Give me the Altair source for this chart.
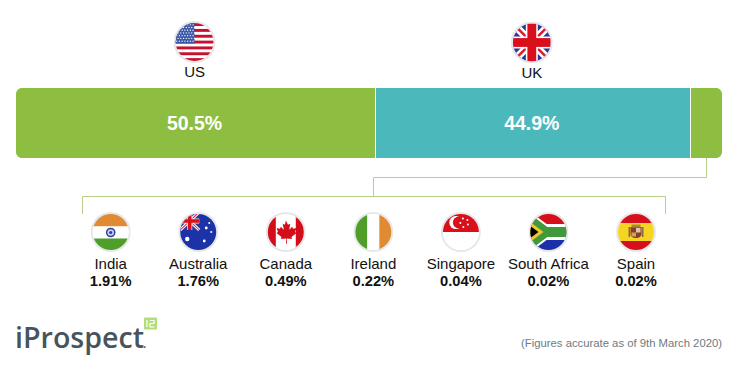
import urllib.parse
import altair as alt
import pandas as pd

# ---- values ----
main_names = ["US", "UK", "Other"]
main_labels = ["50.5%", "44.9%", ""]
main_shares = [50.92, 44.62, 4.46]  # segment lengths as drawn in the reference
main_colors = ["#8dbe41", "#4bb8bb", "#8dbe41"]
countries = ["India", "Australia", "Canada", "Ireland", "Singapore", "South Africa", "Spain"]
country_values = ["1.91%", "1.76%", "0.49%", "0.22%", "0.04%", "0.02%", "0.02%"]
note = "(Figures accurate as of 9th March 2020)"
brand = "iProspect"
FONT = "Liberation Sans"

# ---- flag icons ----
def flag(body, defs=""):
    svg = (
        '<svg xmlns="http://www.w3.org/2000/svg" xmlns:xlink="http://www.w3.org/1999/xlink" viewBox="0 0 40 40">'
        '<defs><clipPath id="c"><circle cx="20" cy="20" r="18"/></clipPath>' + defs + '</defs>'
        '<circle cx="20" cy="20" r="20" fill="#e7e7ea"/><circle cx="20" cy="20" r="18" fill="#fff"/>'
        '<g clip-path="url(#c)">' + body + '</g></svg>'
    )
    return "data:image/svg+xml," + urllib.parse.quote(svg)

def rect(x, y, w, h, c):
    return f'<rect x="{x}" y="{y}" width="{w}" height="{h}" fill="{c}"/>'

def union_jack(x, y, w, h, t=None):
    x2, y2, cx, cy = x + w, y + h, x + w / 2, y + h / 2
    t = t or h / 7
    return (
        rect(x, y, w, h, "#26389c")
        + f'<path d="M{x} {y}L{x2} {y2}M{x2} {y}L{x} {y2}" stroke="#fff" stroke-width="{t*1.2}"/>'
        + f'<path d="M{x} {y}L{x2} {y2}M{x2} {y}L{x} {y2}" stroke="#dc1c2a" stroke-width="{t*0.4}"/>'
        + rect(cx - t * 0.95, y, t * 1.9, h, "#fff") + rect(x, cy - t * 0.95, w, t * 1.9, "#fff")
        + rect(cx - t * 0.7, y, t * 1.4, h, "#d90f1c") + rect(x, cy - t * 0.7, w, t * 1.4, "#d90f1c")
    )

def us_flag():
    b = rect(0, 0, 40, 40, "#fff")
    for i in range(0, 13, 2):
        b += rect(0, 2 + i * 2.78, 40, 2.78, "#c8102e")
    b += rect(0, 2, 20, 19.5, "#3c5aa8")
    for r in range(7):
        for c in range(7):
            b += f'<circle cx="{3 + c * 2.6 + (r % 2) * 1.3}" cy="{3.6 + r * 2.6}" r=".62" fill="#fff"/>'
    return flag(b)

def star(x, y, r=1.3, c="#fff"):
    return f'<circle cx="{x}" cy="{y}" r="{r}" fill="{c}"/>'

india = flag(
    rect(0, 0, 40, 14.5, "#e08b33") + rect(0, 14.5, 40, 12, "#fff") + rect(0, 26.5, 40, 14, "#4e9e29")
    + '<circle cx="20" cy="20.5" r="4.8" fill="#2b3f9e"/><circle cx="20" cy="20.5" r="3.3" fill="#c9d0ea"/>'
    + '<circle cx="20" cy="20.5" r="1.6" fill="#2b3f9e"/>'
)
australia = flag(
    rect(0, 0, 40, 40, "#1c33a8") + union_jack(2, 0, 19, 18)
    + star(28, 16, 1.4) + star(33, 20, 1) + star(26, 29, 1.4) + star(9, 27, 2.2) + star(31, 11, 1)
)
canada = flag(
    rect(0, 0, 10, 40, "#d30d1a") + rect(30, 0, 10, 40, "#d30d1a")
    + '<path fill="#d30d1a" d="M20 8.5l2.2 4.2 2.2-1-1 6 3-3 .8 2 3.3-.6-1.2 4 1.4.8-5 4.2.5 2-5.2-.7.2 5.1h-1l.2-5.1-5.2.7.5-2-5-4.2 1.4-.8-1.2-4 3.3.6.8-2 3 3-1-6 2.2 1z"/>'
)
ireland = flag(rect(0, 0, 14, 40, "#4e9e29") + rect(14, 0, 12, 40, "#fff") + rect(26, 0, 14, 40, "#e08b33"))
singapore = flag(
    rect(0, 0, 40, 20, "#d90f1c") + rect(0, 20, 40, 20, "#fff")
    + '<circle cx="15" cy="10.5" r="6.6" fill="#fff"/><circle cx="18" cy="10.5" r="6" fill="#d90f1c"/>'
    + star(22, 6.5, 1) + star(26.5, 8, 1) + star(19.5, 11, 1) + star(27, 12.5, 1) + star(22.5, 15, 1)
)
south_africa = flag(
    rect(0, 0, 40, 20, "#d5101c") + rect(0, 20, 40, 20, "#1c2fa8")
    + '<path d="M0 0L20 20L0 40" fill="#000"/>'
    + '<path d="M-2 5L18 20L-2 35" fill="none" stroke="#fff" stroke-width="13"/>'
    + rect(18, 12, 24, 16, "#fff")
    + '<path d="M-2 5L18 20L-2 35" fill="none" stroke="#3f9a3c" stroke-width="9"/>'
    + rect(17, 15, 25, 10, "#3f9a3c")
    + '<path d="M0 8.5L15 20L0 31.5z" fill="#f4c430"/><path d="M0 12.5L10 20L0 27.5z" fill="#000"/>'
)
spain = flag(
    rect(0, 0, 40, 11, "#d5101c") + rect(0, 11, 40, 18, "#f5d523") + rect(0, 29, 40, 12, "#d5101c")
    + rect(12.5, 15, 1.6, 10, "#8d6b3a") + rect(25.9, 15, 1.6, 10, "#8d6b3a")
    + '<path d="M14.5 15h11v7c0 2.5-2.7 4-5.5 4s-5.5-1.5-5.5-4z" fill="#8e3a2c"/>'
    + rect(15.5, 12.5, 9, 3, "#a8863a") + rect(20, 16, 4.5, 4.5, "#d9c9a8") + rect(15.5, 20.5, 4.5, 4, "#c9a94a")
)
logo_mark = "data:image/svg+xml," + urllib.parse.quote(
    '<svg xmlns="http://www.w3.org/2000/svg" viewBox="0 0 14 13">'
    '<rect x=".5" y=".5" width="13" height="12" rx="1" fill="#b4dc7c"/>'
    '<path d="M3.5 3v7M6.5 3.5h4v3h-4v3.5h4.5" fill="none" stroke="#fff" stroke-width="1.2"/></svg>'
)
main_flags = [us_flag(), flag(union_jack(2, 2, 36, 36, 36 / 6)), None]
country_flags = [india, australia, canada, ireland, singapore, south_africa, spain]

# ---- tables ----
main = pd.DataFrame({"name": main_names, "label": main_labels, "share": main_shares,
                     "color": main_colors, "flag": main_flags})
main["end"] = main["share"].cumsum()
main["start"] = main["end"] - main["share"]
main["mid"] = (main["start"] + main["end"]) / 2
small = pd.DataFrame({"country": countries, "value": country_values, "flag": country_flags})

# ---- shared encodings ----
xs = alt.Scale(domain=[0, 100], range=[8, 714])
X = alt.X("mid:Q", scale=xs, axis=None)
Xc = alt.X("country:N", scale=alt.Scale(type="point", domain=countries, range=[102.7, 628], padding=0), axis=None)
top = main[main["name"] != "Other"]
NUDGE = -1.2

def segment(name, **corners):
    return (
        alt.Chart(main[main["name"] == name])
        .mark_bar(**corners)
        .encode(
            x=alt.X("start:Q", scale=xs, axis=None),
            x2="end:Q",
            y=alt.value(80),
            y2=alt.value(150),
            color=alt.Color("color:N", scale=None),
        )
    )

bars = [
    segment("US", cornerRadiusTopLeft=6, cornerRadiusBottomLeft=6),
    segment("UK"),
    segment("Other", cornerRadiusTopRight=6, cornerRadiusBottomRight=6),
]
dividers = (
    alt.Chart(main.iloc[:2]).mark_rule(color="#ffffff", strokeWidth=1)
    .encode(x=alt.X("end:Q", scale=xs, axis=None), y=alt.value(80), y2=alt.value(150))
)
pct = (
    alt.Chart(top).mark_text(font=FONT, fontSize=19.5, fontWeight="bold", color="#ffffff",
                             baseline="middle", dx=NUDGE)
    .encode(x=X, y=alt.value(116), text="label:N")
)
top_flags = [
    alt.Chart(top[top["name"] == "US"]).mark_image(width=42, height=42, xOffset=NUDGE)
    .encode(x=X, y=alt.value(34), url="flag:N"),
    alt.Chart(top[top["name"] == "UK"]).mark_image(width=42, height=42, xOffset=NUDGE)
    .encode(x=X, y=alt.value(34.5), url="flag:N"),
]
top_names = [
    alt.Chart(top[top["name"] == "US"]).mark_text(font=FONT, fontSize=15, color="#111111",
                                                  baseline="middle", dx=NUDGE)
    .encode(x=X, y=alt.value(63.5), text="name:N"),
    alt.Chart(top[top["name"] == "UK"]).mark_text(font=FONT, fontSize=15, color="#111111",
                                                  baseline="middle", dx=NUDGE)
    .encode(x=X, y=alt.value(65), text="name:N"),
]

# connectors
conn = "#b5d08a"
def seg(x, x2, y, y2):
    return alt.Chart(pd.DataFrame({"k": [0]})).mark_rule(color=conn, strokeWidth=1).encode(
        x=alt.value(x), x2=alt.value(x2), y=alt.value(y), y2=alt.value(y2))

connectors = [
    seg(698.5, 698.5, 150, 169.5),
    seg(365.5, 698.5, 169.5, 169.5),
    seg(365.5, 365.5, 169.5, 188.5),
    seg(74.5, 657.5, 188.5, 188.5),
    seg(74.5, 74.5, 188.5, 206),
    seg(657.5, 657.5, 188.5, 206),
]

flags_small = alt.Chart(small).mark_image(width=40, height=40).encode(x=Xc, y=alt.value(224), url="flag:N")
names_small = alt.Chart(small).mark_text(font=FONT, fontSize=15, color="#111111", baseline="middle").encode(
    x=Xc, y=alt.value(255.5), text="country:N")
vals_small = alt.Chart(small).mark_text(font=FONT, fontSize=14.7, fontWeight="bold", color="#111111", baseline="middle").encode(
    x=Xc, y=alt.value(273.5), text="value:N")

foot = alt.Chart(pd.DataFrame({"t": [note]})).mark_text(
    font=FONT, fontSize=11.3, color="#6f7a82", align="right", baseline="middle"
).encode(x=alt.value(714), y=alt.value(336), text="t:N")
logo = alt.Chart(pd.DataFrame({"t": [brand]})).mark_text(
    font="Open Sans", fontSize=28.6, fontWeight=600, color="#47545d", align="left", baseline="alphabetic"
).encode(x=alt.value(7), y=alt.value(340), text="t:N")
logo_dot = alt.Chart(pd.DataFrame({"t": ["."]})).mark_text(
    font="Open Sans", fontSize=12, fontWeight=600, color="#47545d", align="left", baseline="alphabetic"
).encode(x=alt.value(135), y=alt.value(340), text="t:N")
logo_icon = alt.Chart(pd.DataFrame({"u": [logo_mark]})).mark_image(width=14, height=13).encode(
    x=alt.value(142.5), y=alt.value(315.5), url="u:N")

chart = (
    alt.layer(*bars, dividers, pct, *top_flags, *top_names, *connectors,
              flags_small, names_small, vals_small, foot, logo, logo_dot, logo_icon)
    .resolve_scale(x="independent", y="independent", color="independent")
    .properties(width=722, height=358, padding=0, autosize="none", background="#ffffff")
    .configure_view(stroke=None)
)
chart.save("out.html", embed_options={"renderer": "svg", "actions": False})
